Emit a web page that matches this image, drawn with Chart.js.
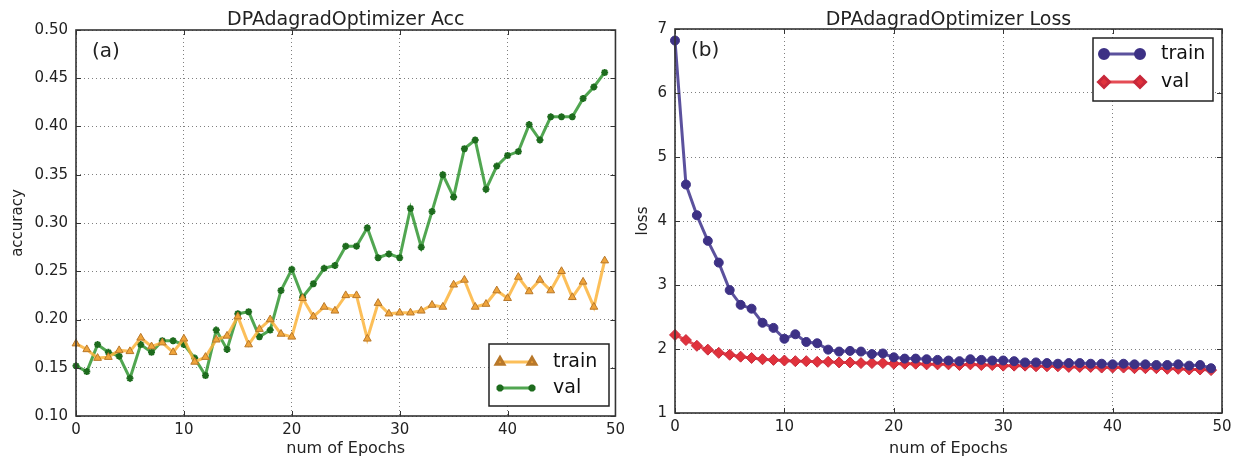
<!DOCTYPE html>
<html>
<head>
<meta charset="utf-8">
<script src="https://cdn.jsdelivr.net/npm/chart.js@4/dist/chart.umd.min.js"></script>
<style>
  html, body { margin: 0; padding: 0; background: #fff; }
  .panel { position: absolute; top: 0; height: 466px; }
  #left { left: 0; width: 630px; }
  #right { left: 630px; width: 609px; }
</style>
</head>
<body>
<div class="panel" id="left"><canvas id="accChart"></canvas></div>
<div class="panel" id="right"><canvas id="lossChart"></canvas></div>
<script>
// accuracy per epoch
const accTrain = [
  0.175, 0.169, 0.160, 0.161, 0.168, 0.167, 0.181, 0.172, 0.176, 0.166,
  0.180, 0.156, 0.161, 0.179, 0.183, 0.203, 0.174, 0.190, 0.200, 0.185,
  0.182, 0.222, 0.203, 0.213, 0.209, 0.225, 0.225, 0.180, 0.217, 0.206,
  0.207, 0.207, 0.209, 0.215, 0.213, 0.236, 0.241, 0.213, 0.216, 0.230,
  0.222, 0.244, 0.229, 0.241, 0.230, 0.250, 0.223, 0.239, 0.213, 0.261
];
const accVal = [
  0.152, 0.146, 0.174, 0.166, 0.162, 0.139, 0.174, 0.166, 0.178, 0.178,
  0.174, 0.160, 0.142, 0.189, 0.169, 0.206, 0.208, 0.182, 0.189, 0.230,
  0.252, 0.223, 0.237, 0.253, 0.256, 0.276, 0.276, 0.295, 0.264, 0.268,
  0.264, 0.315, 0.275, 0.312, 0.350, 0.327, 0.377, 0.386, 0.335, 0.359,
  0.370, 0.374, 0.402, 0.386, 0.410, 0.410, 0.410, 0.429, 0.441, 0.456
];
// loss per epoch
const lossTrain = [
  6.82, 4.57, 4.09, 3.69, 3.35, 2.92, 2.69, 2.63, 2.41, 2.33,
  2.16, 2.23, 2.11, 2.09, 1.99, 1.96, 1.97, 1.96, 1.92, 1.93,
  1.87, 1.85, 1.85, 1.84, 1.83, 1.82, 1.81, 1.84, 1.83, 1.82,
  1.82, 1.81, 1.79, 1.79, 1.78, 1.77, 1.78, 1.78, 1.77, 1.77,
  1.76, 1.77, 1.76, 1.76, 1.75, 1.75, 1.76, 1.74, 1.75, 1.70
];
const lossVal = [
  2.22, 2.14, 2.05, 1.99, 1.94, 1.91, 1.88, 1.86, 1.84, 1.83,
  1.82, 1.81, 1.81, 1.80, 1.80, 1.79, 1.79, 1.78, 1.78, 1.78,
  1.77, 1.77, 1.77, 1.76, 1.76, 1.76, 1.75, 1.76, 1.75, 1.75,
  1.74, 1.74, 1.74, 1.73, 1.73, 1.73, 1.72, 1.72, 1.72, 1.71,
  1.71, 1.71, 1.70, 1.70, 1.70, 1.69, 1.69, 1.68, 1.68, 1.67
];
const seriesNames = ["train", "val"];
const accTicks = [0.10, 0.15, 0.20, 0.25, 0.30, 0.35, 0.40, 0.45, 0.50];
const lossTicks = [1, 2, 3, 4, 5, 6, 7];
const epochTicks = [0, 10, 20, 30, 40, 50];

Chart.defaults.font.family = "'DejaVu Sans', sans-serif";
Chart.defaults.color = "#222";

const toPoints = (arr) => arr.map((v, i) => ({ x: i, y: v }));

// frame, inward ticks, title, panel tag and boxed legend
const panelPlugin = {
  id: "panel",
  afterDraw(chart, args, opts) {
    const ctx = chart.ctx;
    const a = chart.chartArea;
    const sx = chart.scales.x, sy = chart.scales.y;
    ctx.save();
    ctx.strokeStyle = "#333";
    ctx.lineWidth = 1;
    ctx.beginPath();
    sx.ticks.forEach((t) => {
      const px = Math.round(sx.getPixelForValue(t.value)) + 0.5;
      ctx.moveTo(px, a.bottom); ctx.lineTo(px, a.bottom - 5);
      ctx.moveTo(px, a.top); ctx.lineTo(px, a.top + 5);
    });
    sy.ticks.forEach((t) => {
      const py = Math.round(sy.getPixelForValue(t.value)) + 0.5;
      ctx.moveTo(a.left, py); ctx.lineTo(a.left + 5, py);
      ctx.moveTo(a.right, py); ctx.lineTo(a.right - 5, py);
    });
    ctx.stroke();
    ctx.lineWidth = 1.6;
    ctx.strokeRect(a.left, a.top, a.right - a.left, a.bottom - a.top);

    ctx.fillStyle = "#222";
    ctx.font = "19px 'DejaVu Sans'";
    ctx.textAlign = "center";
    ctx.textBaseline = "alphabetic";
    ctx.fillText(opts.title, (a.left + a.right) / 2, 25);

    ctx.font = "20px 'DejaVu Sans'";
    ctx.textAlign = "left";
    ctx.textBaseline = "middle";
    ctx.fillText(opts.tag, a.left + 16, a.top + 22);

    // legend box
    const lg = opts.legend;
    ctx.fillStyle = "#fff";
    ctx.fillRect(lg.x, lg.y, lg.w, lg.h);
    ctx.strokeStyle = "#222";
    ctx.lineWidth = 1.5;
    ctx.strokeRect(lg.x, lg.y, lg.w, lg.h);
    chart.data.datasets.forEach((ds, i) => {
      const y = lg.y + lg.first + i * lg.gap;
      const x1 = lg.x + 11, x2 = x1 + lg.line;
      ctx.strokeStyle = ds.borderColor;
      ctx.lineWidth = ds.borderWidth;
      ctx.beginPath();
      ctx.moveTo(x1, y); ctx.lineTo(x2, y);
      ctx.stroke();
      ctx.fillStyle = ds.pointBackgroundColor;
      ctx.strokeStyle = ds.pointBorderColor;
      const style = { pointStyle: ds.pointStyle, radius: ds.pointRadius, rotation: 0, borderWidth: ds.pointBorderWidth };
      Chart.helpers.drawPoint(ctx, style, x1, y);
      Chart.helpers.drawPoint(ctx, style, x2, y);
      ctx.fillStyle = "#111";
      ctx.font = "19px 'DejaVu Sans'";
      ctx.textAlign = "left";
      ctx.textBaseline = "middle";
      ctx.fillText(ds.label, x2 + 21, y);
    });
    ctx.restore();
  }
};

const drawPanel = (canvas, sets, yTicks, yTitle, box, extra) => {
  return new Chart(canvas, {
    type: "line",
    data: { datasets: sets },
    plugins: [panelPlugin],
    options: {
      responsive: true,
      maintainAspectRatio: false,
      animation: false,
      layout: { padding: { top: box.top, right: box.right, left: 0, bottom: 0 } },
      plugins: {
        legend: { display: false },
        tooltip: { enabled: false },
        panel: extra
      },
      scales: {
        x: {
          type: "linear",
          min: 0,
          max: 50,
          afterBuildTicks: (s) => { s.ticks = epochTicks.map((v) => ({ value: v })); },
          afterFit: (s) => { s.height = box.xh; },
          ticks: { font: { size: 15 }, padding: 5, color: "#222", maxRotation: 0 },
          grid: { color: "rgba(0,0,0,0.5)", lineWidth: 1, drawTicks: false },
          border: { display: false, dash: [1, 3] },
          title: { display: true, text: "num of Epochs", font: { size: 16 }, padding: { bottom: 8 }, color: "#222" }
        },
        y: {
          min: yTicks[0],
          max: yTicks[yTicks.length - 1],
          afterBuildTicks: (s) => { s.ticks = yTicks.map((v) => ({ value: v })); },
          afterFit: (s) => { s.width = box.yw; },
          ticks: {
            font: { size: 15 },
            padding: 8,
            color: "#222",
            callback: (v) => (yTicks[0] < 1 ? v.toFixed(2) : v)
          },
          grid: { color: "rgba(0,0,0,0.5)", lineWidth: 1, drawTicks: false },
          border: { display: false, dash: [1, 3] },
          title: { display: true, text: yTitle, font: { size: 15 }, padding: { top: box.yt }, color: "#222" }
        }
      }
    }
  });
};

const line = (label, data, color, style, r, fill, edge) => ({
  label: label,
  data: toPoints(data),
  borderColor: color,
  borderWidth: 3,
  pointStyle: style,
  pointRadius: r,
  pointBackgroundColor: fill,
  pointBorderColor: edge,
  pointBorderWidth: 1,
  tension: 0,
  clip: false
});

drawPanel(
  document.getElementById("accChart"),
  [
    line(seriesNames[0], accTrain, "rgba(252,180,60,0.85)", "triangle", 4.5, "#f0a43a", "#b8782a"),
    Object.assign(line(seriesNames[1], accVal, "rgba(50,150,50,0.85)", "star", 3.5, "#1d6b1d", "#1d6b1d"), { pointBorderWidth: 2 })
  ],
  accTicks,
  "accuracy",
  { top: 30, right: 12, yw: 76, xh: 50, yt: 9 },
  {
    title: "DPAdagradOptimizer Acc",
    tag: "(a)",
    legend: { x: 489, y: 344, w: 120, h: 62, first: 18, gap: 26, line: 32 }
  }
);

drawPanel(
  document.getElementById("lossChart"),
  [
    line(seriesNames[0], lossTrain, "rgba(62,50,140,0.85)", "circle", 4.5, "#3d3185", "#3d3185"),
    line(seriesNames[1], lossVal, "rgba(225,45,55,0.85)", "rectRot", 5.5, "#e0323c", "#c8283a")
  ],
  lossTicks,
  "loss",
  { top: 29, right: 17, yw: 45, xh: 53, yt: 4 },
  {
    title: "DPAdagradOptimizer Loss",
    tag: "(b)",
    legend: { x: 463, y: 38, w: 120, h: 63, first: 16, gap: 28, line: 36 }
  }
);
</script>
</body>
</html>
